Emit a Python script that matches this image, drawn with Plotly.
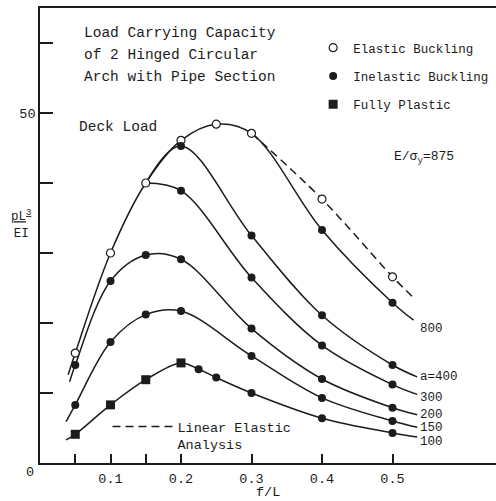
import plotly.graph_objects as go

# ---------------- data (f/L vs pL^3/EI) ----------------
# curve a = 800 (elastic buckling envelope up to f/L = 0.3)
fl_800 = [0.040, 0.05, 0.10, 0.15, 0.20, 0.25, 0.30, 0.40, 0.50, 0.530]
load_800 = [12.6, 15.7, 30.0, 40.0, 46.1, 48.4, 47.1, 33.3, 22.9, 20.4]

# linear elastic analysis (dashed)
fl_linear = [0.30, 0.40, 0.50, 0.530]
load_linear = [47.1, 37.7, 26.6, 23.6]

# a = 400 and a = 300 branch off the elastic envelope
fl_400 = [0.15, 0.20, 0.30, 0.40, 0.50, 0.535]
load_400 = [40.0, 45.3, 32.5, 21.1, 14.0, 12.3]

fl_300 = [0.15, 0.20, 0.30, 0.40, 0.50, 0.535]
load_300 = [40.0, 38.9, 26.5, 16.8, 11.2, 9.8]

fl_200 = [0.042, 0.05, 0.10, 0.15, 0.20, 0.30, 0.40, 0.50, 0.535]
load_200 = [11.6, 14.0, 26.0, 29.7, 29.1, 19.2, 12.0, 7.9, 6.9]

fl_150 = [0.037, 0.05, 0.10, 0.15, 0.20, 0.30, 0.40, 0.50, 0.535]
load_150 = [5.9, 8.3, 17.3, 21.2, 21.7, 15.3, 9.3, 6.0, 5.1]

fl_100 = [0.037, 0.05, 0.10, 0.15, 0.20, 0.225, 0.25, 0.30, 0.40, 0.50, 0.535]
load_100 = [3.3, 4.1, 8.3, 11.9, 14.3, 13.4, 12.2, 10.0, 6.4, 4.3, 3.7]

# marker points
elastic_fl = [0.05, 0.10, 0.15, 0.20, 0.25, 0.30, 0.40, 0.50]
elastic_load = [15.7, 30.0, 40.0, 46.1, 48.4, 47.1, 37.7, 26.6]

inelastic_fl = [0.40, 0.50,
                0.20, 0.30, 0.40, 0.50,
                0.20, 0.30, 0.40, 0.50,
                0.05, 0.10, 0.15, 0.20, 0.30, 0.40, 0.50,
                0.05, 0.10, 0.15, 0.20, 0.30, 0.40, 0.50,
                0.225, 0.25, 0.30, 0.40, 0.50]
inelastic_load = [33.3, 22.9,
                  45.3, 32.5, 21.1, 14.0,
                  38.9, 26.5, 16.8, 11.2,
                  14.0, 26.0, 29.7, 29.1, 19.2, 12.0, 7.9,
                  8.3, 17.3, 21.2, 21.7, 15.3, 9.3, 6.0,
                  13.4, 12.2, 10.0, 6.4, 4.3]

plastic_fl = [0.05, 0.10, 0.15, 0.20]
plastic_load = [4.1, 8.3, 11.9, 14.3]

curve_labels = ["800", "a=400", "300", "200", "150", "100"]
label_load = [19.1, 12.3, 9.3, 6.8, 5.0, 3.0]
label_fl = 0.536

x_tick_vals = [0.05, 0.1, 0.15, 0.2, 0.3, 0.4, 0.5]
x_tick_text = ["", "0.1", "", "0.2", "0.3", "0.4", "0.5"]
y_tick_vals = [10, 20, 30, 40, 50, 60]
y_tick_text = ["", "", "", "", "50", ""]

# ---------------- figure ----------------
INK = "#1c1c1c"
FONT = "Liberation Mono, DejaVu Sans Mono, monospace"

fig = go.Figure()

line_style = dict(color=INK, width=1.5, shape="spline", smoothing=1.0)
for fx, fy in [(fl_800, load_800), (fl_400, load_400), (fl_300, load_300),
               (fl_200, load_200), (fl_150, load_150), (fl_100, load_100)]:
    fig.add_trace(go.Scatter(x=fx, y=fy, mode="lines", line=line_style,
                             showlegend=False, hoverinfo="skip"))

fig.add_trace(go.Scatter(x=fl_linear, y=load_linear, mode="lines",
                         line=dict(color=INK, width=1.5, dash="8px,5px",
                                   shape="spline"),
                         name="Linear Elastic<br>Analysis", legend="legend2"))

fig.add_trace(go.Scatter(x=elastic_fl, y=elastic_load, mode="markers",
                         marker=dict(symbol="circle", size=8, color="white",
                                     line=dict(color=INK, width=1.2)),
                         name="Elastic Buckling", legendgroup="g1"))
fig.add_trace(go.Scatter(x=inelastic_fl, y=inelastic_load, mode="markers",
                         marker=dict(symbol="circle", size=8, color=INK),
                         name="Inelastic Buckling", legendgroup="g2"))
fig.add_trace(go.Scatter(x=plastic_fl, y=plastic_load, mode="markers",
                         marker=dict(symbol="square", size=9, color=INK),
                         name="Fully Plastic", legendgroup="g3"))

annotations = []
for txt, ly in zip(curve_labels, label_load):
    annotations.append(dict(x=label_fl, y=ly, xref="x", yref="y", text=txt,
                            showarrow=False, xanchor="left", yanchor="middle",
                            font=dict(family=FONT, size=12.5, color=INK)))

title_lines = ["Load Carrying Capacity", "of 2 Hinged Circular",
               "Arch with Pipe Section"]
for i, t in enumerate(title_lines):
    annotations.append(dict(x=0.0596, y=61.4 - i * 3.1, xref="x", yref="y",
                            text=t, showarrow=False, xanchor="left",
                            yanchor="middle",
                            font=dict(family=FONT, size=14.5, color=INK)))

annotations.append(dict(x=0.0525, y=48.0, xref="x", yref="y", text="Deck Load",
                        showarrow=False, xanchor="left", yanchor="middle",
                        font=dict(family=FONT, size=14.5, color=INK)))
annotations.append(dict(x=0.499, y=43.7, xref="x", yref="y",
                        text="E/σ<sub>y</sub>=875", showarrow=False,
                        xanchor="left", yanchor="middle",
                        font=dict(family=FONT, size=13, color=INK)))
annotations.append(dict(x=-0.042, y=34.1, xref="paper", yref="y",
                        text="<u>pL<sup>3</sup></u><br>EI", showarrow=False,
                        xanchor="center", yanchor="middle",
                        font=dict(family=FONT, size=12.5, color=INK)))
annotations.append(dict(x=-0.022, y=0, xref="paper", yref="y", yshift=-9,
                        text="0", showarrow=False, xanchor="center",
                        yanchor="middle",
                        font=dict(family=FONT, size=13.5, color=INK)))
# x-axis title
annotations.append(dict(x=0.5, y=0, xref="paper", yref="paper", yshift=-29,
                        text="f/L", showarrow=False, xanchor="center",
                        yanchor="middle",
                        font=dict(family=FONT, size=13.5, color=INK)))

fig.update_layout(
    width=496, height=501,
    margin=dict(l=40, r=0, t=8, b=38, autoexpand=False),
    paper_bgcolor="white", plot_bgcolor="white",
    font=dict(family=FONT, size=13.5, color=INK),
    annotations=annotations,
    legend=dict(x=0.599, y=0.945, xanchor="left", yanchor="top",
                bgcolor="rgba(0,0,0,0)", font=dict(family=FONT, size=12.5),
                tracegroupgap=9, itemclick=False),
    legend2=dict(x=0.148, y=0.114, xanchor="left", yanchor="top",
                 bgcolor="rgba(0,0,0,0)", font=dict(family=FONT, size=13.5),
                 itemwidth=60, valign="top"),
    xaxis=dict(range=[0, 0.6468], showline=True, linecolor=INK, linewidth=1.5,
               mirror=True, showgrid=False, zeroline=False,
               tickmode="array", tickvals=x_tick_vals, ticktext=x_tick_text,
               ticks="inside", ticklen=9, tickcolor=INK, tickwidth=1.5,
               ticklabelstandoff=2),
    yaxis=dict(range=[0, 65], showline=True, linecolor=INK, linewidth=1.5,
               mirror=False, showgrid=False, zeroline=False,
               tickmode="array", tickvals=y_tick_vals, ticktext=y_tick_text,
               ticks="inside", ticklen=13, tickcolor=INK, tickwidth=1.5),
)

fig.write_html("out.html")
